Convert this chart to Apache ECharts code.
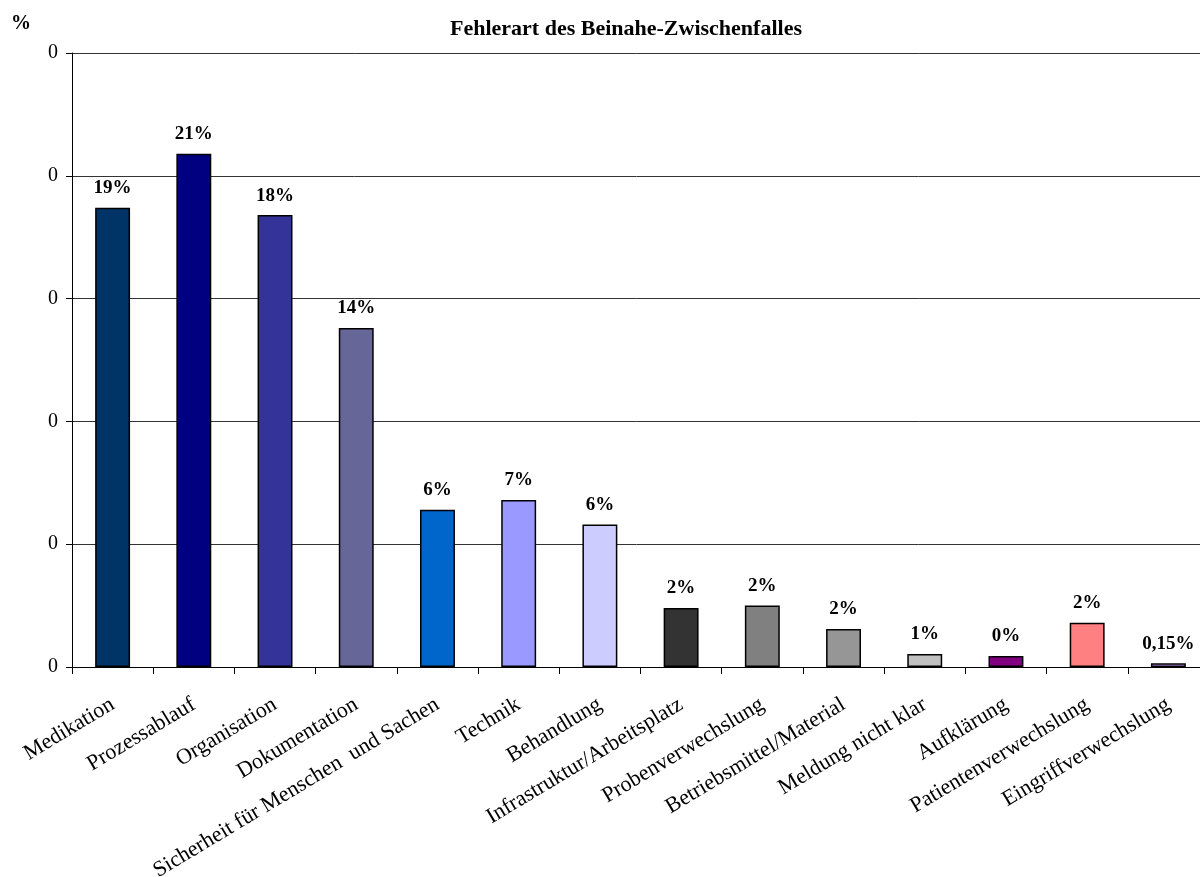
<!DOCTYPE html>
<html>
<head>
<meta charset="utf-8">
<script src="https://cdn.jsdelivr.net/npm/echarts@6/dist/echarts.min.js"></script>
<style>html,body{margin:0;padding:0;background:#fff;}#c{width:1200px;height:877px;}</style>
</head>
<body>
<div id="c"></div>
<script>
const categories = ["Medikation","Prozessablauf","Organisation","Dokumentation","Sicherheit für Menschen  und Sachen","Technik","Behandlung","Infrastruktur/Arbeitsplatz","Probenverwechslung","Betriebsmittel/Material","Meldung nicht klar","Aufklärung","Patientenverwechslung","Eingriffverwechslung"];
const values = [0.187,0.209,0.184,0.138,0.064,0.068,0.058,0.024,0.025,0.0155,0.0053,0.0045,0.018,0.0015];
const valueLabels = ["19%","21%","18%","14%","6%","7%","6%","2%","2%","2%","1%","0%","2%","0,15%"];
const colors = ["#003366","#000080","#333399","#666699","#0066CC","#9999FF","#CCCCFF","#333333","#808080","#969696","#C0C0C0","#800080","#FF8080","#CC99FF"];
const yTicks = {min:0,max:0.25,interval:0.05};
const titleText = "Fehlerart des Beinahe-Zwischenfalles";
const yUnit = "%";

const chart = echarts.init(document.getElementById('c'));
const font = "'Liberation Serif','Times New Roman',serif";
chart.setOption({
  animation:false,
  backgroundColor:'#fff',
  textStyle:{fontFamily:font},
  title:{text:titleText,left:621,top:13,textAlign:'center',
    textStyle:{fontFamily:font,fontSize:22,fontWeight:'bold',color:'#000'}},
  graphic:[{type:'text',left:11,top:14,style:{text:yUnit,font:"bold 20px 'Liberation Serif',serif",fill:'#000'}}],
  grid:{left:72,right:-9,top:53,bottom:210,containLabel:false,outerBoundsMode:'none'},
  xAxis:{type:'category',data:categories,
    axisLine:{lineStyle:{color:'#000',width:1}},
    axisTick:{show:true,alignWithLabel:false,length:7,lineStyle:{color:'#000'}},
    axisLabel:{rotate:31,interval:0,margin:36,color:'#000',fontFamily:font,fontSize:22}},
  yAxis:{type:'value',min:yTicks.min,max:yTicks.max,interval:yTicks.interval,
    axisLine:{show:true,lineStyle:{color:'#000',width:1}},
    axisTick:{show:true,inside:false,length:6,lineStyle:{color:'#000'}},
    splitLine:{lineStyle:{color:'#333',width:1}},
    axisLabel:{formatter:v=>String(Math.round(v)),color:'#000',fontFamily:font,fontSize:20,margin:14}},
  series:[{type:'bar',barWidth:'43%',
    data:values.map((v,i)=>({value:v,itemStyle:{color:colors[i]}})),
    itemStyle:{borderColor:'#000',borderWidth:1.5},
    label:{show:true,position:'top',distance:10,formatter:p=>valueLabels[p.dataIndex],
      fontFamily:font,fontSize:19,fontWeight:'bold',color:'#000'}}]
});
</script>
</body>
</html>
